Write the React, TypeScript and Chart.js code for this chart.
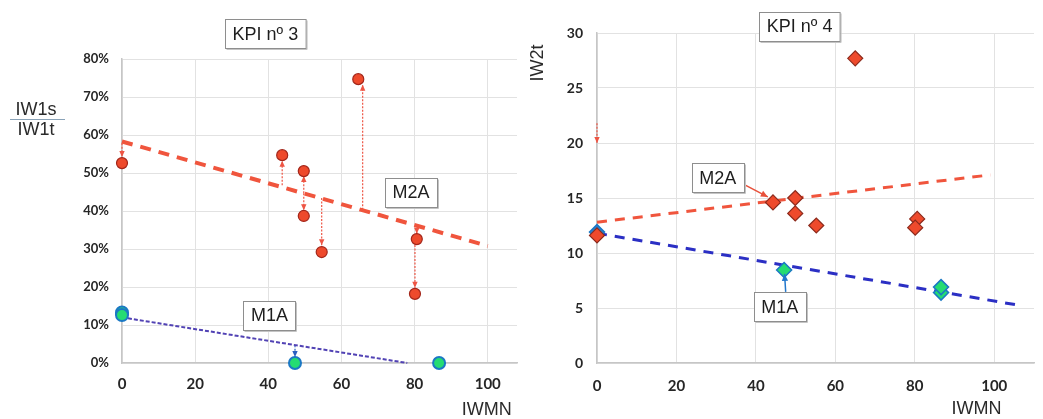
import React, { useEffect, useRef } from "react";
import { Chart, registerables } from "chart.js";

Chart.register(...registerables);

// ---------- KPI nº 3 (IW1s / IW1t vs IWMN) ----------
const kpi3M2AX = [0, 43.8, 49.7, 49.7, 54.6, 64.6, 80.6, 80.1];
const kpi3M2AY = [52.6, 54.7, 50.5, 38.7, 29.2, 74.7, 32.6, 18.2];
const kpi3M1AX = [0, 0, 47.3, 86.7];
const kpi3M1AY = [13.3, 12.6, 0, 0];
const kpi3TrendM2AX = [0, 100];
const kpi3TrendM2AY = [58.3, 30.8];
const kpi3TrendM1AX = [0, 78];
const kpi3TrendM1AY = [12, 0];
// deviation arrows: [x, from, to]
const kpi3ArrowsM2A = [
  [0, 57.8, 54.2],
  [43.8, 46.8, 53.2],
  [49.7, 44.7, 49.2],
  [49.7, 44.7, 40.2],
  [54.6, 43.4, 31.0],
  [65.8, 40.3, 73.2],
  [80.6, 36.3, 34.0],
  [80.1, 32.0, 19.8],
];
const kpi3ArrowsM1A = [[47.3, 4.7, 1.6]];
const kpi3XTicks = [0, 20, 40, 60, 80, 100];
const kpi3YTicks = [0, 10, 20, 30, 40, 50, 60, 70, 80];

// ---------- KPI nº 4 (IW2t vs IWMN) ----------
const kpi4M2AX = [0, 44.3, 49.9, 49.9, 55.2, 65, 80.6, 80.1];
const kpi4M2AY = [11.6, 14.6, 15.0, 13.6, 12.5, 27.7, 13.1, 12.3];
const kpi4M1AX = [0, 47.1, 86.6, 86.6];
const kpi4M1AY = [11.9, 8.45, 6.4, 6.9];
const kpi4TrendM2AX = [0, 99];
const kpi4TrendM2AY = [12.8, 17.1];
const kpi4TrendM1AX = [0, 107];
const kpi4TrendM1AY = [11.8, 5.2];
const kpi4ArrowsM2A = [[0, 21.8, 20.0]];
const kpi4XTicks = [0, 20, 40, 60, 80, 100];
const kpi4YTicks = [0, 5, 10, 15, 20, 25, 30];

const RED_FILL = "#ee4a2c";
const RED_EDGE = "#a3261a";
const GREEN_FILL = "#25dc72";
const BLUE_EDGE = "#1b78c4";
const RED_LINE = "#f0553d";
const LABEL_FONT = "'Liberation Sans', Arial, sans-serif";
const TICK_FONT = "Lato, 'Open Sans', sans-serif";

const pts = (xs: number[], ys: number[]) => xs.map((x, i) => ({ x, y: ys[i] }));

type Box = { text: string; x: number; y: number };
type Pointer = { x1: number; y1: number; x2: number; y2: number; color: string };

function drawArrow(
  ctx: CanvasRenderingContext2D,
  x1: number, y1: number, x2: number, y2: number,
  color: string, width: number, dash: number[], head: number
) {
  ctx.save();
  ctx.strokeStyle = color;
  ctx.fillStyle = color;
  ctx.lineWidth = width;
  ctx.setLineDash(dash);
  ctx.beginPath();
  ctx.moveTo(x1, y1);
  ctx.lineTo(x2, y2);
  ctx.stroke();
  ctx.setLineDash([]);
  const a = Math.atan2(y2 - y1, x2 - x1);
  const c = Math.cos(a), s = Math.sin(a);
  ctx.beginPath();
  ctx.moveTo(x2, y2);
  ctx.lineTo(x2 - head * c + head * 0.45 * s, y2 - head * s - head * 0.45 * c);
  ctx.lineTo(x2 - head * c - head * 0.45 * s, y2 - head * s + head * 0.45 * c);
  ctx.closePath();
  ctx.fill();
  ctx.restore();
}

function drawBox(ctx: CanvasRenderingContext2D, cx: number, cy: number, text: string) {
  ctx.save();
  ctx.font = `18px ${LABEL_FONT}`;
  const w = ctx.measureText(text).width + 15;
  const h = 29;
  const x = Math.round(cx - w / 2) + 0.5;
  const y = Math.round(cy - h / 2) + 0.5;
  ctx.fillStyle = "#ffffff";
  ctx.fillRect(x, y, w, h);
  ctx.strokeStyle = "#c4c4c4";
  ctx.lineWidth = 1;
  ctx.beginPath();
  ctx.moveTo(x + w + 1, y + 1);
  ctx.lineTo(x + w + 1, y + h + 1);
  ctx.lineTo(x + 1, y + h + 1);
  ctx.stroke();
  ctx.strokeStyle = "#8e8e8e";
  ctx.strokeRect(x, y, w, h);
  ctx.fillStyle = "#1e1e1e";
  ctx.textAlign = "center";
  ctx.textBaseline = "middle";
  ctx.fillText(text, cx, cy + 1);
  ctx.restore();
}

function annotations(opts: {
  arrows: { list: number[][]; color: string; width: number }[];
  pointers: Pointer[];
  boxes: Box[];
  xTitle: { text: string; x: number; y: number };
  yTitle: (ctx: CanvasRenderingContext2D, area: any) => void;
}) {
  return {
    id: "annotations",
    beforeDatasetsDraw(chart: any) {
      const { ctx, scales } = chart;
      const xs = scales.x, ys = scales.y;
      opts.arrows.forEach((g) =>
        g.list.forEach(([x, from, to]) => {
          const px = xs.getPixelForValue(x);
          drawArrow(ctx, px, ys.getPixelForValue(from), px, ys.getPixelForValue(to), g.color, g.width, [2, 1.5], 6);
        })
      );
    },
    afterDatasetsDraw(chart: any) {
      const { ctx, scales, chartArea } = chart;
      const xs = scales.x, ys = scales.y;
      opts.pointers.forEach((p) =>
        drawArrow(
          ctx,
          xs.getPixelForValue(p.x1), ys.getPixelForValue(p.y1),
          xs.getPixelForValue(p.x2), ys.getPixelForValue(p.y2),
          p.color, 1.5, [], 7
        )
      );
      opts.boxes.forEach((b) => drawBox(ctx, xs.getPixelForValue(b.x), ys.getPixelForValue(b.y), b.text));
      ctx.save();
      ctx.font = `18px ${LABEL_FONT}`;
      ctx.fillStyle = "#2a2a2a";
      ctx.textAlign = "center";
      ctx.textBaseline = "middle";
      ctx.fillText(opts.xTitle.text, xs.getPixelForValue(opts.xTitle.x), ys.getPixelForValue(opts.xTitle.y));
      ctx.restore();
      opts.yTitle(ctx, chartArea);
    },
  };
}

function scatterSet(data: any[], style: any, order: number) {
  return {
    type: "scatter",
    data,
    showLine: false,
    clip: false,
    order,
    ...style,
  };
}

function trendSet(data: any[], color: string, width: number, dash: number[], order: number) {
  return {
    type: "line",
    data,
    borderColor: color,
    borderWidth: width,
    borderDash: dash,
    pointRadius: 0,
    fill: false,
    tension: 0,
    clip: false,
    order,
  };
}

function axes(p: {
  xMax: number; yMax: number;
  xTicks: number[]; yTicks: number[];
  yWidth: number; xHeight: number; xPad: number; yPad: number;
  yFmt: (v: number) => string; ySize: number;
}) {
  const grid = { color: "#e2e2e2", lineWidth: 1, drawTicks: false };
  return {
    x: {
      type: "linear",
      min: 0,
      max: p.xMax,
      afterBuildTicks: (s: any) => { s.ticks = p.xTicks.map((v) => ({ value: v })); },
      ticks: { padding: p.xPad, color: "#262626", font: { family: TICK_FONT, weight: "bold", size: 15 } },
      grid,
      border: { color: "#c6c6c6", width: 1.5 },
      afterFit: (s: any) => { s.height = p.xHeight; },
    },
    y: {
      type: "linear",
      min: 0,
      max: p.yMax,
      afterBuildTicks: (s: any) => { s.ticks = p.yTicks.map((v) => ({ value: v })); },
      ticks: {
        padding: p.yPad,
        color: "#262626",
        font: { family: TICK_FONT, weight: "bold", size: p.ySize },
        callback: (v: any) => p.yFmt(Number(v)),
      },
      grid,
      border: { color: "#c6c6c6", width: 1.5 },
      afterFit: (s: any) => { s.width = p.yWidth; },
    },
  };
}

export default function App() {
  const leftRef = useRef<HTMLCanvasElement>(null);
  const rightRef = useRef<HTMLCanvasElement>(null);

  useEffect(() => {
    const common = {
      responsive: false,
      animation: false,
      events: [],
      plugins: { legend: { display: false }, tooltip: { enabled: false }, title: { display: false } },
    };

    const left = new Chart(leftRef.current as HTMLCanvasElement, {
      type: "scatter",
      data: {
        datasets: [
          scatterSet(pts(kpi3M2AX, kpi3M2AY), {
            pointStyle: "circle", pointRadius: 5.5, pointBackgroundColor: RED_FILL,
            pointBorderColor: RED_EDGE, pointBorderWidth: 1.2,
          }, 0),
          scatterSet(pts(kpi3M1AX, kpi3M1AY), {
            pointStyle: "circle", pointRadius: 6, pointBackgroundColor: GREEN_FILL,
            pointBorderColor: BLUE_EDGE, pointBorderWidth: 2,
          }, 1),
          trendSet(pts(kpi3TrendM2AX, kpi3TrendM2AY), RED_LINE, 4, [11, 8], 2),
          trendSet(pts(kpi3TrendM1AX, kpi3TrendM1AY), "#5142b4", 2, [4, 2], 3),
        ] as any,
      },
      options: {
        ...common,
        layout: { padding: { left: 0, right: 5, top: 59, bottom: 0 } },
        scales: axes({
          xMax: 108, yMax: 80, xTicks: kpi3XTicks, yTicks: kpi3YTicks,
          yWidth: 122, xHeight: 56, xPad: 12, yPad: 13, yFmt: (v) => `${v}%`, ySize: 13,
        }) as any,
      } as any,
      plugins: [
        annotations({
          arrows: [
            { list: kpi3ArrowsM2A, color: "#ee5544", width: 1.2 },
            { list: kpi3ArrowsM1A, color: "#2a5fc0", width: 1.2 },
          ],
          pointers: [],
          boxes: [
            { text: "KPI nº 3", x: 39.2, y: 86.6 },
            { text: "M2A", x: 79, y: 45 },
            { text: "M1A", x: 40.3, y: 12.6 },
          ],
          xTitle: { text: "IWMN", x: 99.7, y: -12.4 },
          yTitle: (ctx) => {
            ctx.save();
            ctx.font = `18px ${LABEL_FONT}`;
            ctx.fillStyle = "#2a2a2a";
            ctx.textAlign = "center";
            ctx.textBaseline = "middle";
            ctx.fillText("IW1s", 36, 110);
            ctx.fillText("IW1t", 36, 130);
            ctx.strokeStyle = "#8aa3b8";
            ctx.lineWidth = 1;
            ctx.beginPath();
            ctx.moveTo(10, 119.5);
            ctx.lineTo(65, 119.5);
            ctx.stroke();
            ctx.restore();
          },
        }) as any,
      ],
    });

    const right = new Chart(rightRef.current as HTMLCanvasElement, {
      type: "scatter",
      data: {
        datasets: [
          scatterSet(pts(kpi4M2AX, kpi4M2AY), {
            pointStyle: "rectRot", pointRadius: 7.5, pointBackgroundColor: RED_FILL,
            pointBorderColor: "#8c2a1c", pointBorderWidth: 1.2,
          }, 0),
          scatterSet(pts(kpi4M1AX, kpi4M1AY), {
            pointStyle: "rectRot", pointRadius: 7.5,
            pointBackgroundColor: ["#2a7fd0", GREEN_FILL, GREEN_FILL, GREEN_FILL],
            pointBorderColor: BLUE_EDGE, pointBorderWidth: 1.5,
          }, 1),
          trendSet(pts(kpi4TrendM2AX, kpi4TrendM2AY), RED_LINE, 3, [10, 8], 2),
          trendSet(pts(kpi4TrendM1AX, kpi4TrendM1AY), "#2b2fc4", 3, [10, 8], 3),
        ] as any,
      },
      options: {
        ...common,
        layout: { padding: { left: 0, right: 8, top: 33, bottom: 0 } },
        scales: axes({
          xMax: 110, yMax: 30, xTicks: kpi4XTicks, yTicks: kpi4YTicks,
          yWidth: 77, xHeight: 56, xPad: 14, yPad: 14, yFmt: (v) => `${v}`, ySize: 14,
        }) as any,
      } as any,
      plugins: [
        annotations({
          arrows: [{ list: kpi4ArrowsM2A, color: "#ee5544", width: 1.2 }],
          pointers: [
            { x1: 37.2, y1: 16.2, x2: 43.0, y2: 15.1, color: "#e8503a" },
            { x1: 47.5, y1: 6.47, x2: 47.2, y2: 8.1, color: "#2277cc" },
          ],
          boxes: [
            { text: "KPI nº 4", x: 51, y: 30.6 },
            { text: "M2A", x: 30.4, y: 16.85 },
            { text: "M1A", x: 46, y: 5.1 },
          ],
          xTitle: { text: "IWMN", x: 95.5, y: -4.2 },
          yTitle: (ctx) => {
            ctx.save();
            ctx.font = `18px ${LABEL_FONT}`;
            ctx.fillStyle = "#2a2a2a";
            ctx.textAlign = "center";
            ctx.textBaseline = "middle";
            ctx.translate(18, 63);
            ctx.rotate(-Math.PI / 2);
            ctx.fillText("IW2t", 0, 0);
            ctx.restore();
          },
        }) as any,
      ],
    });

    return () => {
      left.destroy();
      right.destroy();
    };
  }, []);

  return (
    <div style={{ position: "fixed", left: 0, top: 0, width: 1043, height: 419, background: "#ffffff", overflow: "hidden" }}>
      <canvas ref={leftRef} width={525} height={419} style={{ position: "absolute", left: 0, top: 0 }} />
      <canvas ref={rightRef} width={523} height={419} style={{ position: "absolute", left: 520, top: 0 }} />
    </div>
  );
}
